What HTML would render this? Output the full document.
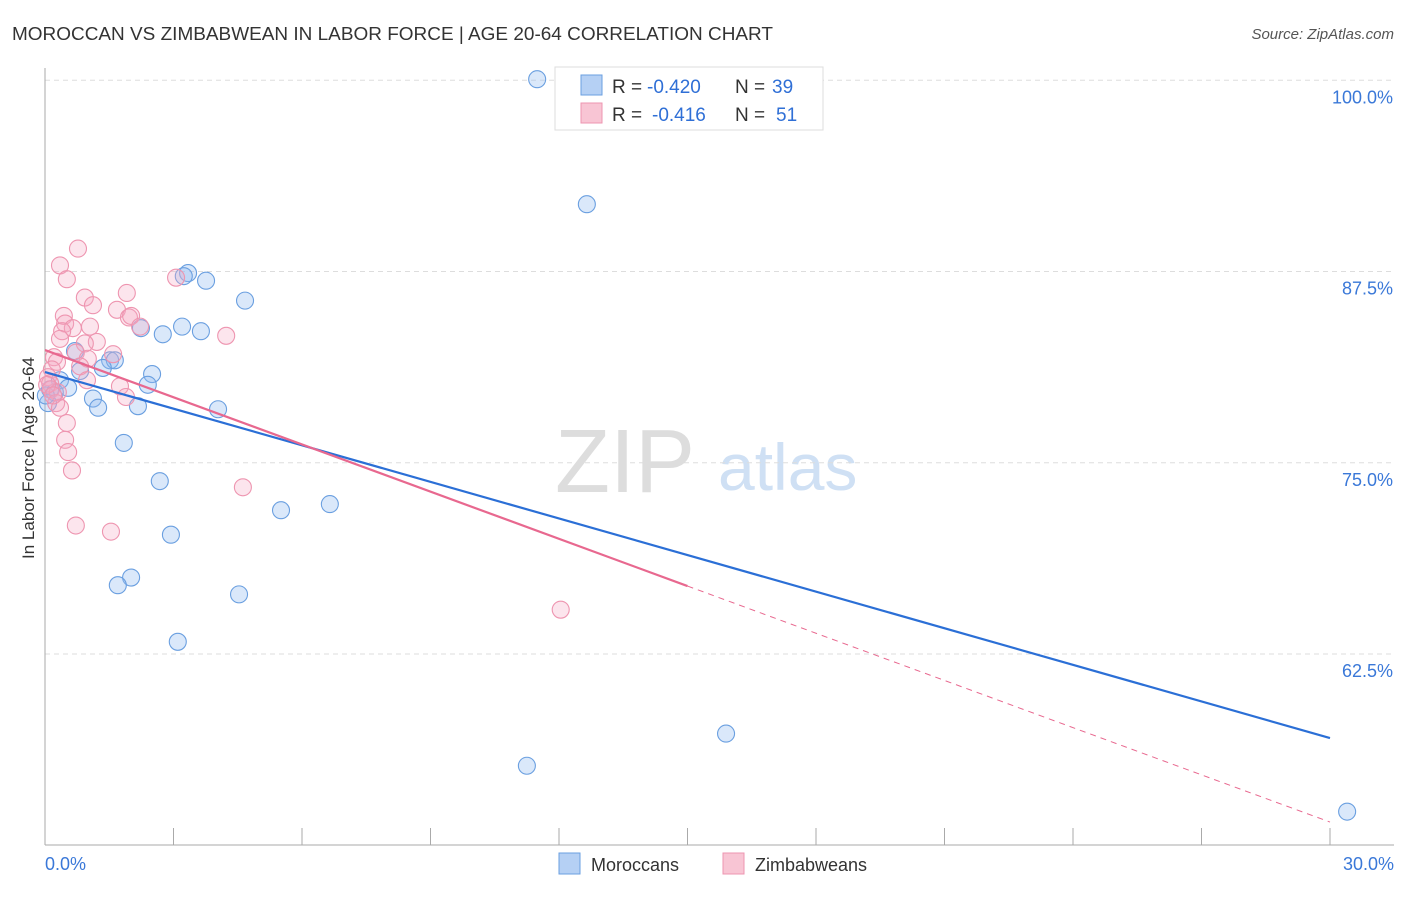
<!DOCTYPE html>
<html><head><meta charset="utf-8"><style>
body{margin:0;background:#fff;font-family:"Liberation Sans",sans-serif;}
svg text{font-family:"Liberation Sans",sans-serif;}
</style></head><body>
<svg id="chart" width="1406" height="892">
<text x="12" y="40" font-size="18" fill="#333" textLength="761" lengthAdjust="spacingAndGlyphs">MOROCCAN VS ZIMBABWEAN IN LABOR FORCE | AGE 20-64 CORRELATION CHART</text>
<text x="1394" y="39" font-size="15" fill="#555" text-anchor="end" font-style="italic">Source: ZipAtlas.com</text>
<text x="34" y="458" font-size="17" fill="#333" text-anchor="middle" transform="rotate(-90 34 458)">In Labor Force | Age 20-64</text>
<text x="555" y="492" font-size="90" fill="#ddd" font-family="Liberation Serif">ZIP</text>
<text x="718" y="490" font-size="66" fill="#cfe0f4">atlas</text>
<g id="grid"></g><g id="pts"></g><g id="lines"></g>
<g>
<rect x="555" y="67" width="268" height="63" fill="#fff" stroke="#ddd"/>
<rect x="581" y="75" width="21" height="20" fill="#b5d0f4" stroke="#6a9fe0"/>
<rect x="581" y="103" width="21" height="20" fill="#f8c5d4" stroke="#ee95b0"/>
<text x="612" y="93" font-size="19" fill="#333">R =</text>
<text x="647" y="93" font-size="19" fill="#2f6fd6">-0.420</text>
<text x="735" y="93" font-size="19" fill="#333">N =</text>
<text x="772" y="93" font-size="19" fill="#2f6fd6">39</text>
<text x="612" y="121" font-size="19" fill="#333">R =</text>
<text x="652" y="121" font-size="19" fill="#2f6fd6">-0.416</text>
<text x="735" y="121" font-size="19" fill="#333">N =</text>
<text x="776" y="121" font-size="19" fill="#2f6fd6">51</text>
</g>
<g>
<rect x="559" y="853" width="21" height="21" fill="#b5d0f4" stroke="#6a9fe0"/>
<text x="591" y="871" font-size="18" fill="#333">Moroccans</text>
<rect x="723" y="853" width="21" height="21" fill="#f8c5d4" stroke="#ee95b0"/>
<text x="755" y="871" font-size="18" fill="#333">Zimbabweans</text>
</g>
</svg>
<script>
const yTicks=[100,87.5,75,62.5];
const yTickLabels=["100.0%","87.5%","75.0%","62.5%"];
const xTickLabels=["0.0%","30.0%"];
const blueX=[11.49,12.65,3.34,3.24,3.76,4.67,2.24,2.75,3.2,3.64,0.7,1.52,1.63,1.35,0.82,2.5,2.4,0.35,0.12,0.23,0.54,1.12,1.24,2.17,4.04,1.84,2.68,5.51,6.65,2.94,2.01,1.7,4.53,3.1,15.9,11.25,30.4,0.07,0.02];
const blueY=[100.07,91.9,87.4,87.2,86.9,85.6,83.8,83.4,83.9,83.6,82.3,81.7,81.7,81.2,81.0,80.8,80.1,80.4,79.8,79.6,79.9,79.2,78.6,78.7,78.5,76.3,73.8,71.9,72.3,70.3,67.5,67.0,66.4,63.3,57.3,55.2,52.2,78.9,79.4];
const pinkX=[0.77,0.35,0.51,0.93,1.12,3.06,1.91,1.68,1.96,2.01,0.44,0.47,0.65,1.05,0.4,2.22,4.23,1.21,0.35,0.93,0.72,0.21,0.28,1.59,1.0,0.82,0.16,0.07,0.12,0.14,1.75,1.89,0.3,0.26,0.35,0.51,0.47,0.54,0.63,4.62,0.72,1.54,12.04,0.98,0.05,0.19];
const pinkY=[89.0,87.9,87.0,85.8,85.3,87.1,86.1,85.0,84.5,84.6,84.6,84.1,83.8,83.9,83.6,83.9,83.3,82.9,83.1,82.8,82.2,81.9,81.6,82.1,81.8,81.3,81.1,80.6,80.2,79.8,80.0,79.3,79.6,78.9,78.6,77.6,76.5,75.7,74.5,73.4,70.9,70.5,65.4,80.4,80.1,79.4];
const blueLine=[80.93,57.01];
const pinkLine=[82.37,51.52];
const pinkSolidEnd=15;
const X=v=>45+v/30*1285, Y=v=>80.3+(100-v)*15.3;
const NS="http://www.w3.org/2000/svg";
function mk(t,a,p){const e=document.createElementNS(NS,t);for(const k in a)e.setAttribute(k,a[k]);p.appendChild(e);return e;}
const g=document.getElementById('grid');
yTicks.forEach((t,i)=>{
 const l=mk('line',{x1:45,x2:1394,y1:Y(t),y2:Y(t),stroke:'#ddd','stroke-dasharray':'5,4'},g);
 
 
 const tx=mk('text',{x:1393,y:Y(t)+23,'font-size':18,fill:'#3a78d8','text-anchor':'end'},g);tx.textContent=yTickLabels[i];
 
 
});
mk('line',{x1:45,x2:45,y1:68,y2:845,stroke:'#aaa'},g);
mk('line',{x1:45,x2:1394,y1:845,y2:845,stroke:'#aaa'},g);
for(let i=0;i<=10;i++){const t=mk('line',{x1:X(i*3),x2:X(i*3),y1:828,y2:845,stroke:'#aaa'},g);
 
 }
[[0,'start',45],[1,'end',1394]].forEach(([i,a,x])=>{const t=mk('text',{x:x,y:870,'font-size':18,fill:'#3a78d8','text-anchor':a},g);t.textContent=xTickLabels[i];
 
 });
const p=document.getElementById('pts');
blueX.forEach((x,i)=>{const c=mk('circle',{cx:X(x),cy:Y(blueY[i]),r:8.5,fill:'rgba(150,190,240,0.35)',stroke:'#6a9fe0','stroke-width':1.1},p);
 
 });
pinkX.forEach((x,i)=>{const c=mk('circle',{cx:X(x),cy:Y(pinkY[i]),r:8.5,fill:'rgba(245,170,195,0.3)',stroke:'#ee95b0','stroke-width':1.1},p);
 
 });
const L=document.getElementById('lines');
const bl=mk('line',{x1:X(0),y1:Y(blueLine[0]),x2:X(30),y2:Y(blueLine[1]),stroke:'#2b6fd6','stroke-width':2.2},L);


const pv=x=>pinkLine[0]+(pinkLine[1]-pinkLine[0])*x/30;
const pl=mk('line',{x1:X(0),y1:Y(pv(0)),x2:X(pinkSolidEnd),y2:Y(pv(pinkSolidEnd)),stroke:'#e8688f','stroke-width':2.2},L);


const pd=mk('line',{x1:X(pinkSolidEnd),y1:Y(pv(pinkSolidEnd)),x2:X(30),y2:Y(pv(30)),stroke:'#e8688f','stroke-width':1,'stroke-dasharray':'6,5'},L);


</script>
</body></html>
